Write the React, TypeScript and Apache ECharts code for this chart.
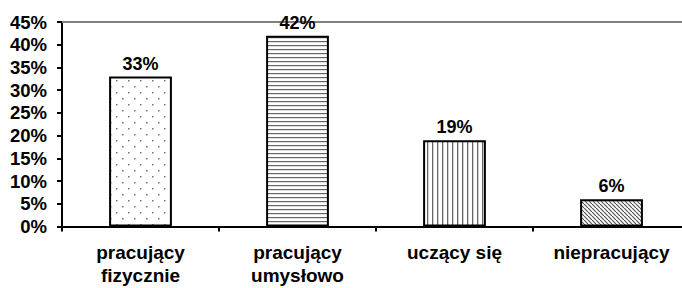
import React, { useEffect, useRef } from "react";
import * as echarts from "echarts";

const categories = ["pracujący\nfizycznie", "pracujący\numysłowo", "uczący się", "niepracujący"];
const values = [33, 42, 19, 6];
const yTicks = { min: 0, max: 45, interval: 5 };

function makePattern(kind: string): HTMLCanvasElement {
  const c = document.createElement("canvas");
  const ctx = c.getContext("2d")!;
  if (kind === "dots") {
    c.width = 12; c.height = 12;
    ctx.fillStyle = "#fff"; ctx.fillRect(0, 0, 12, 12);
    ctx.fillStyle = "#777";
    ctx.fillRect(2, 2, 1.5, 1.5);
    ctx.fillRect(8, 8, 1.5, 1.5);
  } else if (kind === "hlines") {
    c.width = 4; c.height = 4;
    ctx.fillStyle = "#fff"; ctx.fillRect(0, 0, 4, 4);
    ctx.fillStyle = "#666";
    ctx.fillRect(0, 1, 4, 1.2);
  } else if (kind === "vlines") {
    c.width = 5; c.height = 5;
    ctx.fillStyle = "#fff"; ctx.fillRect(0, 0, 5, 5);
    ctx.fillStyle = "#666";
    ctx.fillRect(2, 0, 1.3, 5);
  } else {
    c.width = 4; c.height = 4;
    ctx.fillStyle = "#fff"; ctx.fillRect(0, 0, 4, 4);
    ctx.strokeStyle = "#555";
    ctx.lineWidth = 1.2;
    ctx.beginPath();
    for (let k = -4; k <= 8; k += 4) {
      ctx.moveTo(k, 0);
      ctx.lineTo(k + 4, 4);
    }
    ctx.stroke();
  }
  return c;
}

export default function App() {
  const ref = useRef<HTMLDivElement>(null);
  useEffect(() => {
    if (!ref.current) return;
    const chart = echarts.init(ref.current, null, { renderer: "svg" });
    const kinds = ["dots", "hlines", "vlines", "diag"];
    const font = "'Liberation Sans', Arial, sans-serif";
    chart.setOption({
      animation: false,
      backgroundColor: "#fff",
      grid: { left: 62, right: 10, top: 22, bottom: 61.5 },
      xAxis: [
        {
          type: "category",
          data: categories,
          boundaryGap: true,
          axisLine: { lineStyle: { color: "#000", width: 2 } },
          axisTick: { show: true, length: 5, inside: false, lineStyle: { color: "#000", width: 2 } },
          axisLabel: {
            interval: 0,
            margin: 14,
            color: "#000",
            fontWeight: "bold",
            fontSize: 19,
            fontFamily: font,
            lineHeight: 23,
          },
        },
        {
          type: "category",
          position: "top",
          data: categories,
          axisLine: { show: true, lineStyle: { color: "#808080", width: 2 } },
          axisTick: { show: false },
          axisLabel: { show: false },
        },
      ],
      yAxis: {
        type: "value",
        min: yTicks.min,
        max: yTicks.max,
        interval: yTicks.interval,
        axisLine: { show: true, lineStyle: { color: "#000", width: 2 } },
        axisTick: { show: true, length: 5, lineStyle: { color: "#000", width: 2 } },
        splitLine: { show: false },
        axisLabel: {
          formatter: "{value}%",
          margin: 15,
          color: "#000",
          fontWeight: "bold",
          fontSize: 18.5,
          fontFamily: font,
        },
      },
      series: [
        {
          type: "bar",
          barWidth: "40%",
          data: values.map((v, i) => ({
            value: v,
            itemStyle: {
              color: { image: makePattern(kinds[i]), repeat: "repeat" },
              borderColor: "#000",
              borderWidth: 2,
            },
          })),
          label: {
            show: true,
            position: "top",
            distance: 4,
            formatter: "{c}%",
            color: "#000",
            fontWeight: "bold",
            fontSize: 18,
            fontFamily: font,
          },
        },
      ],
    });
    return () => chart.dispose();
  }, []);
  return (
    <div style={{ position: "fixed", left: 0, top: 0, width: 682, height: 288, overflow: "hidden", background: "#fff" }}>
      <div ref={ref} style={{ width: 700, height: 288 }} />
    </div>
  );
}
